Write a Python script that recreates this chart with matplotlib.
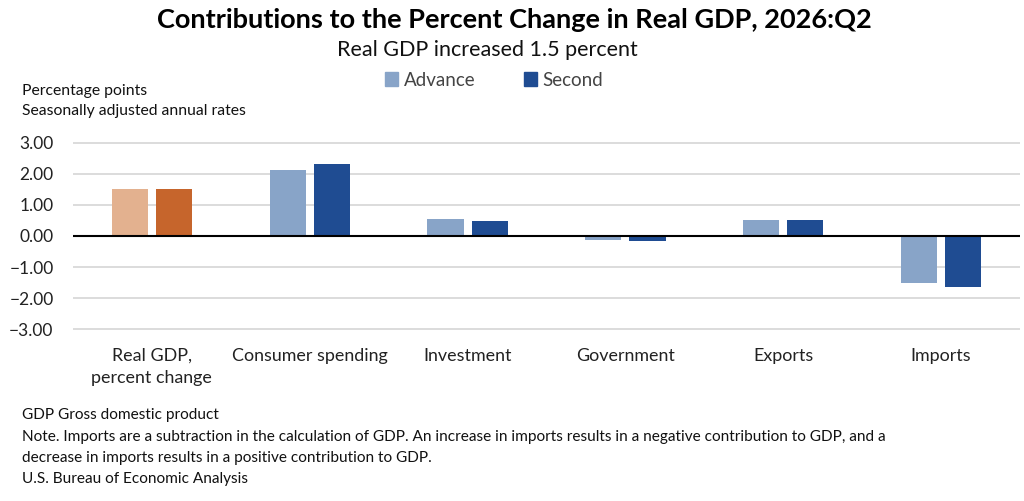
import numpy as np
import matplotlib
matplotlib.use("Agg")
import matplotlib.pyplot as plt
from matplotlib.patches import Patch

plt.rcParams['font.family'] = ['Lato', 'DejaVu Sans']

# data
categories = ['Real GDP,\npercent change', 'Consumer spending', 'Investment',
              'Government', 'Exports', 'Imports']
advance = [1.50, 2.12, 0.54, -0.14, 0.50, -1.52]
second = [1.50, 2.32, 0.48, -0.16, 0.50, -1.63]
yticks = [-3, -2, -1, 0, 1, 2, 3]

adv_colors = ['#E3B18F'] + ['#88A4C8'] * 5
sec_colors = ['#C6652C'] + ['#1F4C92'] * 5

fig = plt.figure(figsize=(10.24, 5.01), dpi=100)
ax = fig.add_axes([73 / 1024, 1 - 331 / 501, 947 / 1024, 190 / 501])

x = np.arange(len(categories))
w = 0.23
ax.bar(x - 0.14, advance, w, color=adv_colors, zorder=3)
ax.bar(x + 0.14, second, w, color=sec_colors, zorder=3)

ax.set_xlim(-0.5, len(categories) - 0.5)
ax.set_ylim(-3.06, 3.06)
ax.set_yticks(yticks)
ax.set_yticklabels([f'{v:.2f}'.replace('-', '\u2212') for v in yticks],
                   fontsize=12.5, color='#222222')
ax.yaxis.grid(True, color='#d9d9d9', linewidth=1.3, zorder=0)
ax.axhline(0, color='black', linewidth=1.5, zorder=4)
for s in ax.spines.values():
    s.set_visible(False)
ax.tick_params(axis='y', length=0, pad=14)
ax.tick_params(axis='x', length=0, pad=12)
ax.set_xticks(x)
ax.set_xticklabels(categories, fontsize=12.9, color='#222222', linespacing=1.45)

fig.text(514 / 1024, 1 - 20 / 501, 'Contributions to the Percent Change in Real GDP, 2026:Q2',
         ha='center', va='center', fontsize=19.5, fontweight='bold', color='black')
fig.text(487 / 1024, 1 - 50 / 501, 'Real GDP increased 1.5 percent',
         ha='center', va='center', fontsize=15.5, color='#111111')

handles = [Patch(color='#88A4C8', label='Advance'), Patch(color='#1F4C92', label='Second')]
fig.legend(handles=handles, loc='center', bbox_to_anchor=(494 / 1024, 1 - 80 / 501),
           ncol=2, frameon=False, fontsize=13.5, handlelength=0.7, handleheight=0.7,
           handletextpad=0.3, columnspacing=2.6, labelcolor='#444444')

fig.text(22 / 1024, 1 - 91 / 501, 'Percentage points', ha='left', va='center',
         fontsize=11.3, color='#111111')
fig.text(22 / 1024, 1 - 111 / 501, 'Seasonally adjusted annual rates', ha='left', va='center',
         fontsize=11.3, color='#111111')

notes = ['GDP Gross domestic product',
         'Note. Imports are a subtraction in the calculation of GDP. An increase in imports results in a negative contribution to GDP, and a',
         'decrease in imports results in a positive contribution to GDP.',
         'U.S. Bureau of Economic Analysis']
for i, t in enumerate(notes):
    fig.text(22 / 1024, 1 - (415 + 21.5 * i) / 501, t, ha='left', va='center',
             fontsize=11.1, color='#111111')

fig.savefig('out.png', dpi=100, facecolor='white')
